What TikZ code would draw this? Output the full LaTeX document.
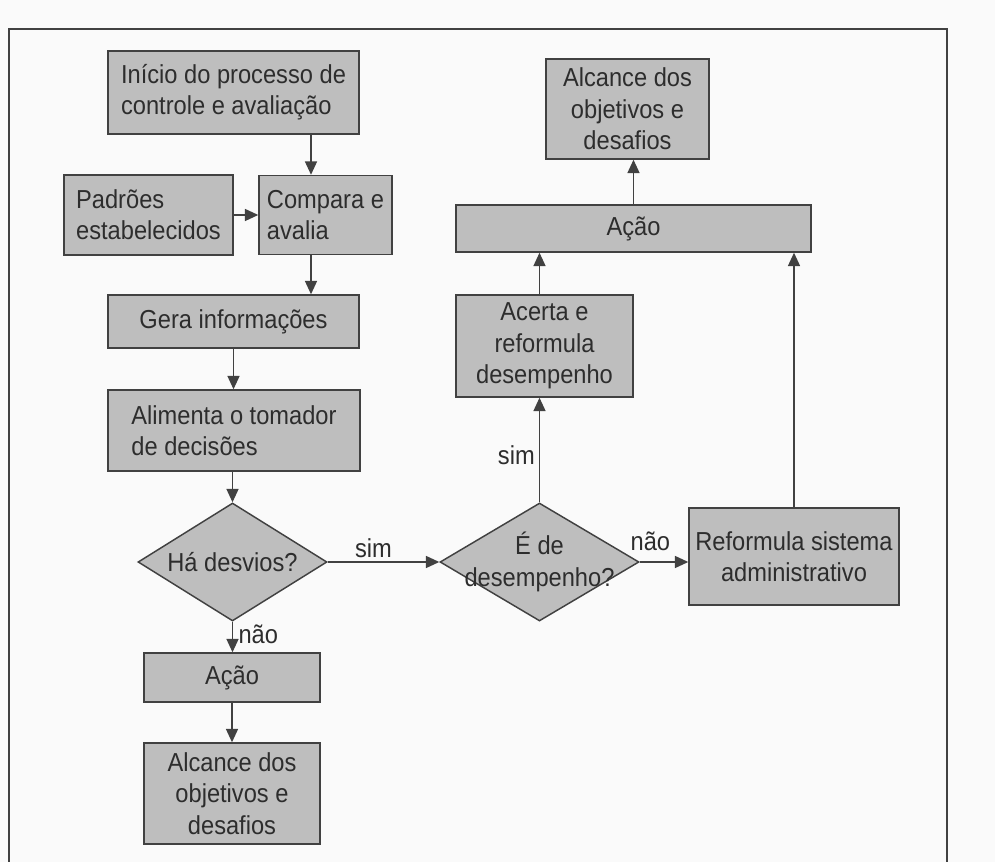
\documentclass[tikz,border=0pt]{standalone}
\usepackage{fontspec}
\setmainfont{Liberation Sans}[FakeStretch=0.91]
\usetikzlibrary{arrows.meta,shapes.geometric}
\definecolor{boxfill}{RGB}{190,190,190}
\definecolor{linec}{RGB}{65,65,65}
\definecolor{textc}{RGB}{45,45,45}
\definecolor{bgc}{RGB}{250,250,250}
\begin{document}
\begin{tikzpicture}[x=0.75pt,y=-0.75pt,
  txt/.style={text=textc, font=\fontsize{19.5}{23.5}\selectfont},
  box/.style={txt, draw=linec, fill=boxfill, line width=1.1pt, inner sep=0pt},
  wh/.style 2 args={minimum width=#1*0.75pt, minimum height=#2*0.75pt},
  dia/.style={diamond, draw=linec, fill=boxfill, line width=1.1pt, inner sep=0pt, aspect=1.6},
  arr/.style={draw=linec, line width=1.1pt, -{Triangle[length=10pt,width=9pt]}},
  lbl/.style={txt, inner sep=2pt}
]
\fill[bgc] (0,0) rectangle (995,862);
\useasboundingbox (0,0) rectangle (995,862);
% frame
\draw[linec, line width=1.1pt] (9,862) -- (9,29) -- (947,29) -- (947,862);

% left column
\node[box, wh={251}{83}, align=left] (init) at (233.5,92.5) {Início do processo de\\controle e avaliação};
\node[box, wh={169}{80}, align=left] (pad) at (148.5,215) {Padrões\\estabelecidos};
\node[box, wh={133}{79}, align=left] (comp) at (325.5,215) {Compara e\\avalia};
\node[box, wh={251}{53}, align=center] (gera) at (233.5,321.5) {Gera informações};
\node[box, wh={252}{81}, align=left] (alim) at (234,430.5) {Alimenta o tomador\\de decisões};
\node[dia, minimum width=189*0.75pt, minimum height=118*0.75pt] (d1) at (232.5,562) {};
\node[txt, align=center] (d1t) at (d1.center) {Há desvios?};
\node[box, wh={176}{49}, align=center] (acao1) at (232,677.5) {Ação};
\node[box, wh={176}{101}, align=center] (alc1) at (232,793.5) {Alcance dos\\objetivos e\\desafios};

% right part
\node[box, wh={163}{100}, align=center] (alc2) at (627.5,109) {Alcance dos\\objetivos e\\desafios};
\node[box, wh={355}{47}, align=center] (acao2) at (633.5,228.5) {Ação};
\node[box, wh={177}{102}, align=center] (acerta) at (544.5,346) {Acerta e\\reformula\\desempenho};
\node[dia, minimum width=199*0.75pt, minimum height=118*0.75pt] (d2) at (539.5,562) {};
\node[txt, align=center] (d2t) at (d2.center) {É de\\desempenho?};
\node[box, wh={210}{97}, align=center] (reform) at (794,556.5) {Reformula sistema\\administrativo};

\coordinate (a1) at (311,0);

% connectors
\draw[arr] (init.south -| a1) -- (comp.north -| a1);
\draw[arr] (pad.east) -- (comp.west);
\draw[arr] (comp.south -| a1) -- (gera.north -| a1);
\draw[arr] (gera.south) -- (alim.north -| gera.south);
\draw[arr] (alim.south -| d1.north) -- (d1.north);
\draw[arr] (d1.south) -- node[lbl, pos=0.4, right=4pt, inner sep=0pt] {não} (acao1.north -| d1.south);
\draw[arr] (acao1.south) -- (alc1.north);
\draw[arr] (d1.east) -- node[lbl, pos=0.41, above=1pt] {sim} (d2.west);
\draw[arr] (d2.north) -- node[lbl, pos=0.45, left=1pt] {sim} (acerta.south -| d2.north);
\draw[arr] (acerta.north -| d2.north) -- (acao2.south -| d2.north);
\draw[arr] (acao2.north) -- (alc2.south -| acao2.north);
\draw[arr] (d2.east) -- node[lbl, pos=0.22, above=6pt] {não} (reform.west |- d2.east);
\draw[arr] (reform.north) -- (acao2.south -| reform.north);
\end{tikzpicture}
\end{document}
